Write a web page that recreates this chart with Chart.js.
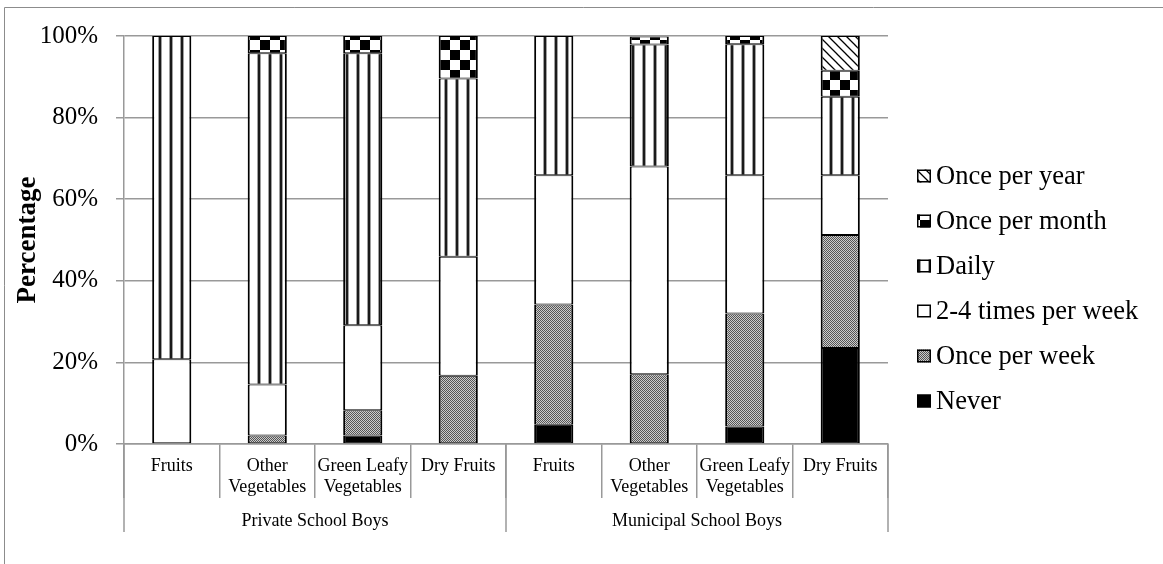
<!DOCTYPE html>
<html>
<head>
<meta charset="utf-8">
<script src="https://cdn.jsdelivr.net/npm/chart.js@4/dist/chart.umd.min.js"></script>
<style>
  html, body { margin: 0; padding: 0; background: #fff; }
  #wrap { width: 1163px; height: 564px; }
</style>
</head>
<body>
<div id="wrap"><canvas id="foodChart" width="1163" height="564"></canvas></div>
<script>
const FONT = "'Liberation Serif', 'Times New Roman', serif";

const foodItems = [
    ['Fruits'], ['Other', 'Vegetables'], ['Green Leafy', 'Vegetables'], ['Dry Fruits'],
    ['Fruits'], ['Other', 'Vegetables'], ['Green Leafy', 'Vegetables'], ['Dry Fruits']
];
const schoolGroups = ['Private School Boys', 'Municipal School Boys'];
const yTicks = [0, 20, 40, 60, 80, 100];

// percentages, bottom of the stack first
const never        = [0,    0,    2.1,  0,    4.7,  0,    4.3,  23.5];
const oncePerWeek  = [0,    2.1,  6.2,  16.7, 29.5, 17.1, 27.7, 27.7];
const twoToFour    = [20.8, 12.5, 20.8, 29.2, 31.7, 50.9, 33.9, 14.7];
const daily        = [79.2, 81.2, 66.7, 43.7, 34.1, 29.9, 32.1, 19.2];
const oncePerMonth = [0,    4.2,  4.2,  10.4, 0,    2.0,  2.0,  6.4];
const oncePerYear  = [0,    0,    0,    0,    0,    0,    0,    8.5];

// --- fill patterns ---
function makePattern(w, h, paint) {
    const tile = document.createElement('canvas');
    tile.width = w;
    tile.height = h;
    const t = tile.getContext('2d');
    t.fillStyle = '#fff';
    t.fillRect(0, 0, w, h);
    paint(t);
    return document.createElement('canvas').getContext('2d').createPattern(tile, 'repeat');
}

const dottedFill = makePattern(2, 2, t => {
    t.fillStyle = '#cccccc';
    t.fillRect(0, 0, 2, 2);
    t.fillStyle = '#555555';
    t.fillRect(0, 0, 1, 1);
    t.fillRect(1, 1, 1, 1);
});

const stripeFill = makePattern(11, 1, t => {
    t.fillStyle = '#a0a0a0';
    t.fillRect(4, 0, 1, 1);
    t.fillRect(7, 0, 1, 1);
    t.fillStyle = '#1a1a1a';
    t.fillRect(5, 0, 2, 1);
});

const checkerFill = makePattern(20, 20, t => {
    t.fillStyle = '#000';
    t.fillRect(0, 0, 10, 10);
    t.fillRect(10, 10, 10, 10);
});

const diagonalFill = makePattern(9, 9, t => {
    t.strokeStyle = '#000';
    t.lineWidth = 1.3;
    t.beginPath();
    t.moveTo(-1, -1); t.lineTo(10, 10);
    t.moveTo(-1, 8);  t.lineTo(1, 10);
    t.moveTo(8, -1);  t.lineTo(10, 1);
    t.stroke();
});

function series(label, data, fill) {
    return {
        label: label,
        data: data,
        backgroundColor: fill,
        borderColor: '#000',
        borderWidth: { top: 1, bottom: 1, left: 2, right: 2 },
        borderSkipped: false,
        categoryPercentage: 1.0,
        barPercentage: 0.41
    };
}

// two-level x axis: group lines and names, plus frame and legend
const extrasPlugin = {
    id: 'extras',
    beforeDraw(chart) {
        const ctx = chart.ctx;
        ctx.save();
        ctx.strokeStyle = '#8c8c8c';
        ctx.lineWidth = 1;
        ctx.beginPath();
        ctx.moveTo(4.5, 564);
        ctx.lineTo(4.5, 7.5);
        ctx.lineTo(1163, 7.5);
        ctx.stroke();
        ctx.restore();
    },
    afterDraw(chart) {
        const ctx = chart.ctx;
        const x = chart.scales.x;
        const area = chart.chartArea;
        const n = foodItems.length;
        const step = (x.getPixelForValue(1) - x.getPixelForValue(0));
        ctx.save();
        ctx.strokeStyle = '#999';
        ctx.lineWidth = 1.5;
        const perGroup = n / schoolGroups.length;
        for (let g = 0; g <= schoolGroups.length; g++) {
            const px = x.getPixelForValue(g * perGroup) - step / 2;
            ctx.beginPath();
            ctx.moveTo(px, area.bottom);
            ctx.lineTo(px, area.bottom + 88);
            ctx.stroke();
        }
        ctx.fillStyle = '#000';
        ctx.font = '18px ' + FONT;
        ctx.textAlign = 'center';
        ctx.textBaseline = 'middle';
        schoolGroups.forEach((name, g) => {
            const left = x.getPixelForValue(g * perGroup) - step / 2;
            const right = x.getPixelForValue((g + 1) * perGroup - 1) + step / 2;
            ctx.fillText(name, (left + right) / 2, area.bottom + 77);
        });

        // legend, top entry is the last dataset
        const items = chart.data.datasets.slice().reverse();
        ctx.font = '26.5px ' + FONT;
        ctx.textAlign = 'left';
        items.forEach((ds, i) => {
            const cy = 176 + i * 45;
            ctx.fillStyle = ds.backgroundColor;
            ctx.fillRect(917, cy - 6.5, 14, 13);
            ctx.strokeStyle = '#000';
            ctx.lineWidth = 1.5;
            ctx.strokeRect(917.75, cy - 5.75, 12.5, 11.5);
            ctx.fillStyle = '#000';
            ctx.fillText(ds.label, 936, cy + 1);
        });
        ctx.restore();
    }
};

new Chart(document.getElementById('foodChart'), {
    type: 'bar',
    data: {
        labels: foodItems,
        datasets: [
            series('Never', never, '#000'),
            series('Once per week', oncePerWeek, dottedFill),
            series('2-4 times per week', twoToFour, '#fff'),
            series('Daily', daily, stripeFill),
            series('Once per month', oncePerMonth, checkerFill),
            series('Once per year', oncePerYear, diagonalFill)
        ]
    },
    options: {
        responsive: false,
        animation: false,
        devicePixelRatio: 1,
        layout: { padding: { top: 36, left: 0, right: 275, bottom: 0 } },
        plugins: {
            legend: { display: false },
            tooltip: { enabled: false }
        },
        scales: {
            x: {
                stacked: true,
                afterFit: scale => { scale.height = 120; },
                grid: {
                    offset: true,
                    drawOnChartArea: false,
                    drawTicks: true,
                    tickLength: 54,
                    color: '#999',
                    lineWidth: 1.5
                },
                border: { color: '#999', width: 1.5 },
                ticks: {
                    color: '#000',
                    padding: -42,
                    maxRotation: 0,
                    autoSkip: false,
                    font: { family: FONT, size: 18, lineHeight: 1.17 }
                }
            },
            y: {
                stacked: true,
                min: 0,
                max: 100,
                afterFit: scale => { scale.width = 124; },
                afterBuildTicks: scale => {
                    scale.ticks = yTicks.map(v => ({ value: v }));
                },
                grid: {
                    color: '#999',
                    lineWidth: 1.5,
                    tickLength: 8
                },
                border: { color: '#999', width: 1.5 },
                ticks: {
                    color: '#000',
                    padding: 18,
                    font: { family: FONT, size: 25 },
                    callback: v => v + '%'
                },
                title: {
                    display: true,
                    text: 'Percentage',
                    color: '#000',
                    padding: { top: 12, bottom: 0 },
                    font: { family: FONT, size: 27, weight: 'bold' }
                }
            }
        }
    },
    plugins: [extrasPlugin]
});
</script>
</body>
</html>
